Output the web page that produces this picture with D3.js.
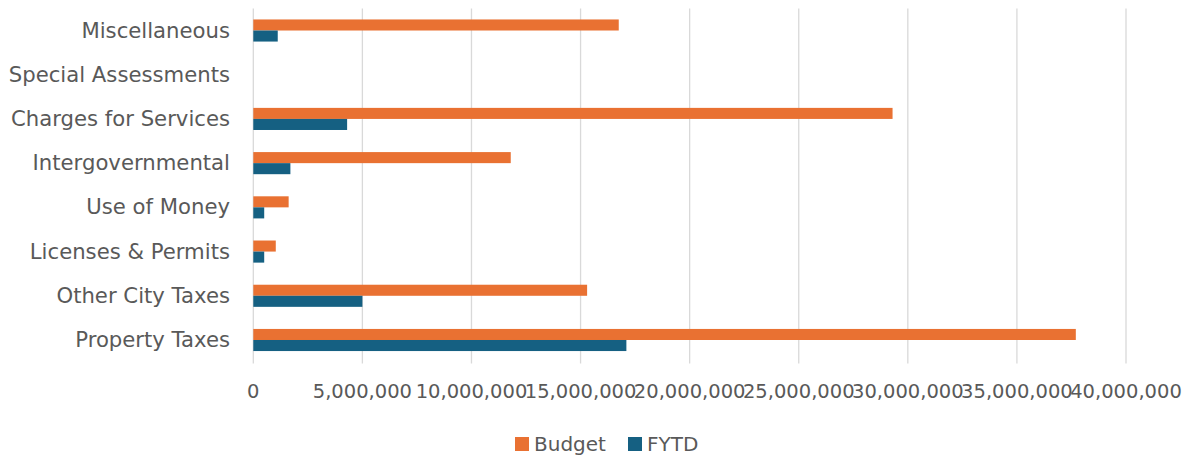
<!DOCTYPE html>
<html>
<head>
<meta charset="utf-8">
<script src="https://cdn.jsdelivr.net/npm/d3@7"></script>
<style>
body { margin: 0; background: #fff; }
</style>
</head>
<body>
<div id="chart"></div>
<script>
// categories listed bottom to top as in the sheet
var categories = ["Property Taxes", "Other City Taxes", "Licenses & Permits", "Use of Money",
  "Intergovernmental", "Charges for Services", "Special Assessments", "Miscellaneous"];
var budget = [37700000, 15300000, 1030000, 1620000, 11800000, 29300000, 0, 16750000];
var fytd = [17100000, 5000000, 500000, 500000, 1700000, 4300000, 0, 1120000];
var seriesNames = ["Budget", "FYTD"];
var xTicks = [0, 5000000, 10000000, 15000000, 20000000, 25000000, 30000000, 35000000, 40000000];

var colors = ["#E97132", "#156082"];
var W = 1191, H = 455;
var plotLeft = 253.3, plotRight = 1126, plotTop = 8.4, plotBottom = 362.1;
var font = "'DejaVu Sans', sans-serif";
var fontSize = 19.5;

var svg = d3.select("#chart").append("svg").attr("width", W).attr("height", H);

var x = d3.scaleLinear().domain([0, 40000000]).range([plotLeft, plotRight]);

// top category first on screen
var y = d3.scaleBand()
  .domain(categories.slice().reverse())
  .range([plotTop, plotBottom])
  .paddingInner(0.5)
  .paddingOuter(0.25);

var inner = d3.scaleBand().domain(seriesNames).range([0, y.bandwidth()]);

// gridlines
svg.append("g").selectAll("line")
  .data(xTicks)
  .enter().append("line")
  .attr("x1", function(d) { return x(d); })
  .attr("x2", function(d) { return x(d); })
  .attr("y1", plotTop)
  .attr("y2", plotBottom + 1.5)
  .attr("stroke", "#d9d9d9")
  .attr("stroke-width", 1.3);

// bars
var rows = categories.map(function(c, i) { return { cat: c, vals: [budget[i], fytd[i]] }; });

var groups = svg.append("g").selectAll("g")
  .data(rows)
  .enter().append("g")
  .attr("transform", function(d) { return "translate(0," + y(d.cat) + ")"; });

groups.selectAll("rect")
  .data(function(d) { return d.vals.map(function(v, j) { return { key: seriesNames[j], v: v, j: j }; }).filter(function(d) { return d.v > 0; }); })
  .enter().append("rect")
  .attr("x", x(0))
  .attr("y", function(d) { return inner(d.key); })
  .attr("width", function(d) { return x(d.v) - x(0); })
  .attr("height", inner.bandwidth())
  .attr("fill", function(d) { return colors[d.j]; });

// category labels
svg.append("g").selectAll("text")
  .data(categories)
  .enter().append("text")
  .attr("x", 230)
  .attr("y", function(d) { return y(d) + y.bandwidth() / 2; })
  .attr("dy", "0.33em")
  .attr("text-anchor", "end")
  .attr("font-family", font)
  .attr("font-size", 21.2)
  .attr("fill", "#595959")
  .text(function(d) { return d; });

// x tick labels
svg.append("g").selectAll("text")
  .data(xTicks)
  .enter().append("text")
  .attr("x", function(d) { return x(d); })
  .attr("y", 398)
  .attr("text-anchor", "middle")
  .attr("font-family", font)
  .attr("font-size", fontSize)
  .attr("fill", "#595959")
  .text(function(d) { return d3.format(",")(d); });

// legend
var legendX = [515, 628];
var legend = svg.append("g").selectAll("g")
  .data(seriesNames)
  .enter().append("g")
  .attr("transform", function(d, i) { return "translate(" + legendX[i] + ",437)"; });

legend.append("rect")
  .attr("width", 14)
  .attr("height", 14)
  .attr("fill", function(d, i) { return colors[i]; });

legend.append("text")
  .attr("x", 19)
  .attr("y", 14)
  .attr("font-family", font)
  .attr("font-size", 20)
  .attr("fill", "#595959")
  .text(function(d) { return d; });
</script>
</body>
</html>
